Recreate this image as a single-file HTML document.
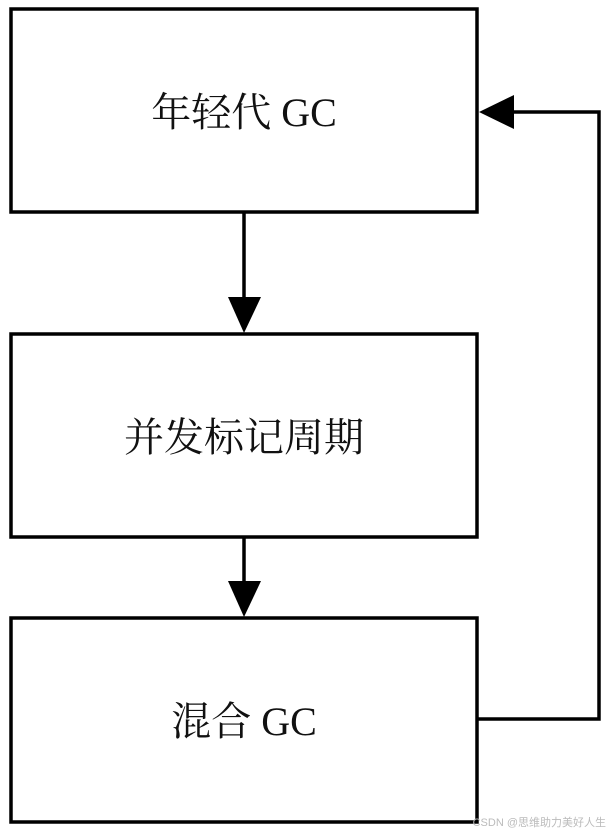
<!DOCTYPE html>
<html><head><meta charset="utf-8"><style>
html,body{margin:0;padding:0;background:#fff;width:612px;height:831px;overflow:hidden}
svg{display:block}
text{font-family:"Liberation Serif","Noto Serif CJK SC",serif;font-size:40px;fill:#111}
</style></head><body>
<svg width="612" height="831" viewBox="0 0 612 831">
<g fill="none" stroke="#000" stroke-width="3.5">
<rect x="11" y="9" width="466" height="203"/>
<rect x="11" y="334" width="466" height="203"/>
<rect x="11" y="618" width="466" height="204"/>
<line x1="244" y1="212" x2="244" y2="300"/>
<line x1="244" y1="537" x2="244" y2="585"/>
<polyline points="477,719 599,719 599,112 510,112"/>
</g>
<g fill="#000">
<polygon points="228,297 261,297 244,333"/>
<polygon points="228,581 261,581 244,617"/>
<polygon points="479,112 514,95 514,129"/>
</g>
<text x="244" y="126" text-anchor="middle">年轻代 GC</text>
<text x="244" y="451" text-anchor="middle">并发标记周期</text>
<text x="244" y="735" text-anchor="middle">混合 GC</text>
<text x="606" y="826" text-anchor="end" style="font-family:'Liberation Sans','Noto Sans CJK SC',sans-serif;font-size:11px;fill:#bbb">CSDN @思维助力美好人生</text>
</svg>
</body></html>
